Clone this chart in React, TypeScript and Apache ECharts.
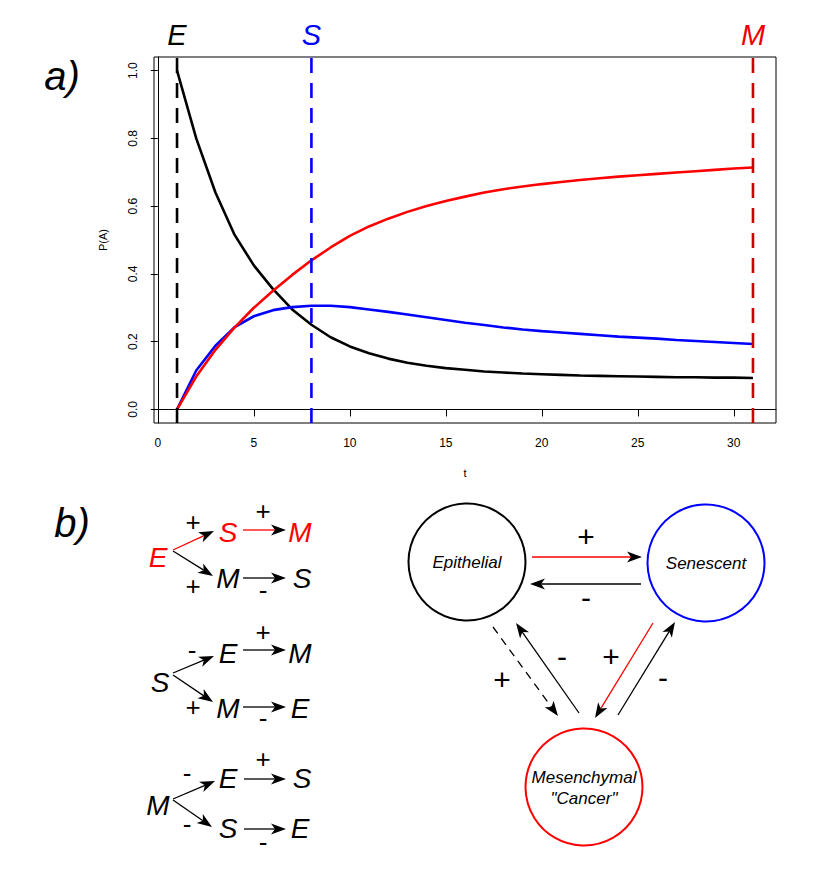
import React, { useEffect, useRef } from "react";
import * as echarts from "echarts";

const FONT = '"Liberation Sans", Arial, sans-serif';

// ---- chart data ----
const tValues = [1, 2, 3, 4, 5, 6, 7, 8, 9, 10, 11, 12, 13, 14, 15, 16, 17, 18, 19, 20, 21, 22, 23, 24, 25, 26, 27, 28, 29, 30, 31];
const epithelial = [1.0, 0.8, 0.64, 0.515, 0.425, 0.355, 0.295, 0.25, 0.213, 0.186, 0.166, 0.15, 0.138, 0.129, 0.122, 0.117, 0.112, 0.109, 0.106, 0.104, 0.102, 0.1, 0.099, 0.098, 0.097, 0.096, 0.095, 0.095, 0.094, 0.094, 0.093];
const senescent = [0, 0.115, 0.188, 0.243, 0.275, 0.293, 0.302, 0.306, 0.306, 0.302, 0.295, 0.288, 0.28, 0.272, 0.264, 0.256, 0.249, 0.242, 0.236, 0.231, 0.227, 0.223, 0.219, 0.215, 0.212, 0.209, 0.205, 0.202, 0.199, 0.196, 0.193];
const mesenchymal = [0, 0.097, 0.176, 0.242, 0.3, 0.35, 0.397, 0.44, 0.478, 0.512, 0.54, 0.563, 0.583, 0.6, 0.615, 0.628, 0.64, 0.65, 0.658, 0.665, 0.671, 0.677, 0.682, 0.687, 0.691, 0.695, 0.699, 0.703, 0.707, 0.711, 0.714];
const xTicks = [0, 5, 10, 15, 20, 25, 30];
const yTicks = [0, 0.2, 0.4, 0.6, 0.8, 1.0];
const markerTimes = [1, 8, 31];
const markerLabels = ["E", "S", "M"];
const markerColors = ["#000000", "#0000FF", "#CD0000"];

// ---- diagram (b) ----
type Lbl = [string, number, number, string, number];
const leftLetters: Lbl[] = [
  ["E", 158, 557, "#FF0000", 28], ["S", 228, 532, "#FF0000", 28], ["M", 300, 532, "#FF0000", 28],
  ["M", 228, 578, "#000", 28], ["S", 302, 578, "#000", 28],
  ["S", 160, 682, "#000", 28], ["E", 228, 653, "#000", 28], ["M", 300, 653, "#000", 28],
  ["M", 228, 708, "#000", 28], ["E", 300, 708, "#000", 28],
  ["M", 158, 805, "#000", 28], ["E", 228, 778, "#000", 28], ["S", 302, 778, "#000", 28],
  ["S", 228, 828, "#000", 28], ["E", 300, 828, "#000", 28],
];
const signs: [string, number, number, number][] = [
  ["+", 193, 522, 26], ["+", 263, 511, 26], ["+", 193, 586, 26], ["-", 263, 590, 26],
  ["-", 192, 650, 26], ["+", 263, 632, 26], ["+", 193, 707, 26], ["-", 263, 718, 26],
  ["-", 187, 773, 26], ["+", 263, 759, 26], ["-", 187, 824, 26], ["-", 263, 842, 26],
  ["+", 586, 536, 30], ["-", 586, 597, 30], ["-", 562, 656, 30], ["+", 502, 679, 30],
  ["+", 611, 656, 30], ["-", 663, 677, 30],
];
type Arr = [number, number, number, number, string, boolean];
const arrows: Arr[] = [
  [173, 550, 214, 531, "#FF0000", false], [173, 551, 213, 576, "#000", false],
  [243, 530, 286, 530, "#FF0000", false], [243, 578, 286, 578, "#000", false],
  [173, 673, 214, 656, "#000", false], [173, 675, 213, 702, "#000", false],
  [243, 650, 286, 650, "#000", false], [243, 707, 286, 707, "#000", false],
  [173, 799, 215, 781, "#000", false], [173, 800, 212, 827, "#000", false],
  [244, 779, 286, 779, "#000", false], [244, 829, 286, 829, "#000", false],
  [532, 557, 642, 557, "#FF0000", false], [641, 584, 530, 584, "#000", false],
  [493, 627, 558, 716, "#000", true], [579, 713, 516, 623, "#000", false],
  [653, 623, 595, 718, "#FF0000", false], [618, 715, 675, 622, "#000", false],
];
const circles: [number, number, string][] = [
  [467, 562, "#000"], [706, 563, "#0000FF"], [584, 787, "#FF0000"],
];
const circleTexts: [string, number, number][] = [
  ["Epithelial", 467, 562], ["Senescent", 706, 563], ["Mesenchymal", 584, 777], ['"Cancer"', 584, 798],
];

function arrowEls(a: Arr) {
  const [x0, y0, x1, y1, color, dashed] = a;
  const dx = x1 - x0, dy = y1 - y0;
  const len = Math.hypot(dx, dy);
  const ux = dx / len, uy = dy / len, nx = -uy, ny = ux;
  const L = 15, W = 5.5, N = 4;
  const bx = x1 - ux * (L - N), by = y1 - uy * (L - N);
  return [
    {
      type: "line", silent: true,
      shape: { x1: x0, y1: y0, x2: bx, y2: by },
      style: { stroke: color, lineWidth: 1.3, lineDash: dashed ? [8, 6] : null },
    },
    {
      type: "polygon", silent: true,
      shape: { points: [[x1, y1], [x1 - ux * L + nx * W, y1 - uy * L + ny * W], [bx, by], [x1 - ux * L - nx * W, y1 - uy * L - ny * W]] },
      style: { fill: "#000" },
    },
  ];
}

function txt(text: string, x: number, y: number, size: number, color: string, italic: boolean) {
  return {
    type: "text", silent: true, x, y,
    style: {
      text, fill: color,
      font: `${italic ? "italic " : ""}${size}px ${FONT}`,
      textAlign: "center", textVerticalAlign: "middle",
    },
  };
}

export default function App() {
  const ref = useRef<HTMLDivElement>(null);
  useEffect(() => {
    document.body.style.margin = "0";
    const chart = echarts.init(ref.current!, null, { renderer: "svg" });
    const zip = (ys: number[]) => tValues.map((t, i) => [t, ys[i]]);
    const vlines = markerTimes.map((t, i) => ({
      type: "line", data: [[t, -0.04], [t, 1.04]], showSymbol: false, silent: true,
      lineStyle: { color: markerColors[i], width: 2.6, type: [15, 10] },
      z: 3,
    }));
    chart.setOption({
      animation: false,
      textStyle: { fontFamily: FONT },
      grid: { left: 154, top: 57, right: 41, bottom: 446, show: true, borderColor: "#000", borderWidth: 1, backgroundColor: "transparent" },
      xAxis: {
        type: "value", min: -0.2, max: 32.2,
        name: "t", nameLocation: "middle", nameGap: 44, nameTextStyle: { fontSize: 11, color: "#000" },
        axisLine: { show: true, lineStyle: { color: "#000" } },
        axisTick: { show: true, length: 7, customValues: xTicks, lineStyle: { color: "#000" } },
        axisLabel: { customValues: xTicks, fontSize: 12, color: "#000", margin: 14 },
        splitLine: { show: false },
      },
      yAxis: {
        type: "value", min: -0.04, max: 1.04,
        name: "P(A)", nameLocation: "middle", nameRotate: 90, nameGap: 46, nameTextStyle: { fontSize: 11, color: "#000" },
        axisLine: { show: true, lineStyle: { color: "#000" } },
        axisTick: { show: true, length: 7, customValues: yTicks, lineStyle: { color: "#000" } },
        axisLabel: { customValues: yTicks, fontSize: 12, color: "#000", rotate: 90, margin: 15, formatter: (v: number) => v.toFixed(1) },
        splitLine: { show: false },
      },
      series: [
        { type: "line", name: "E", data: zip(epithelial), showSymbol: false, lineStyle: { color: "#000", width: 2.6 }, z: 2 },
        { type: "line", name: "S", data: zip(senescent), showSymbol: false, lineStyle: { color: "#0000FF", width: 2.6 }, z: 2 },
        { type: "line", name: "M", data: zip(mesenchymal), showSymbol: false, lineStyle: { color: "#FF0000", width: 2.6 }, z: 2 },
        ...vlines,
      ],
    });
    const gfx: any[] = [];
    markerTimes.forEach((t, i) => {
      const px = chart.convertToPixel({ xAxisIndex: 0 }, t) as number;
      gfx.push(txt(markerLabels[i], px, 35, 29, markerColors[i] === "#CD0000" ? "#EE0000" : markerColors[i], true));
    });
    gfx.push(txt("a)", 62, 76, 40, "#000", true));
    gfx.push(txt("b)", 72, 523, 40, "#000", true));
    leftLetters.forEach(([s, x, y, c, f]) => gfx.push(txt(s, x, y, f, c, true)));
    signs.forEach(([s, x, y, f]) => gfx.push(txt(s, x, y, f, "#000", false)));
    arrows.forEach((a) => gfx.push(...arrowEls(a)));
    circles.forEach(([cx, cy, c]) => gfx.push({
      type: "circle", silent: true, shape: { cx, cy, r: 58.5 },
      style: { fill: "none", stroke: c, lineWidth: 2 },
    }));
    circleTexts.forEach(([s, x, y]) => gfx.push(txt(s, x, y, 17, "#000", true)));
    chart.setOption({ graphic: { elements: gfx } });
    return () => chart.dispose();
  }, []);
  return <div ref={ref} style={{ width: 817, height: 869 }} />;
}
